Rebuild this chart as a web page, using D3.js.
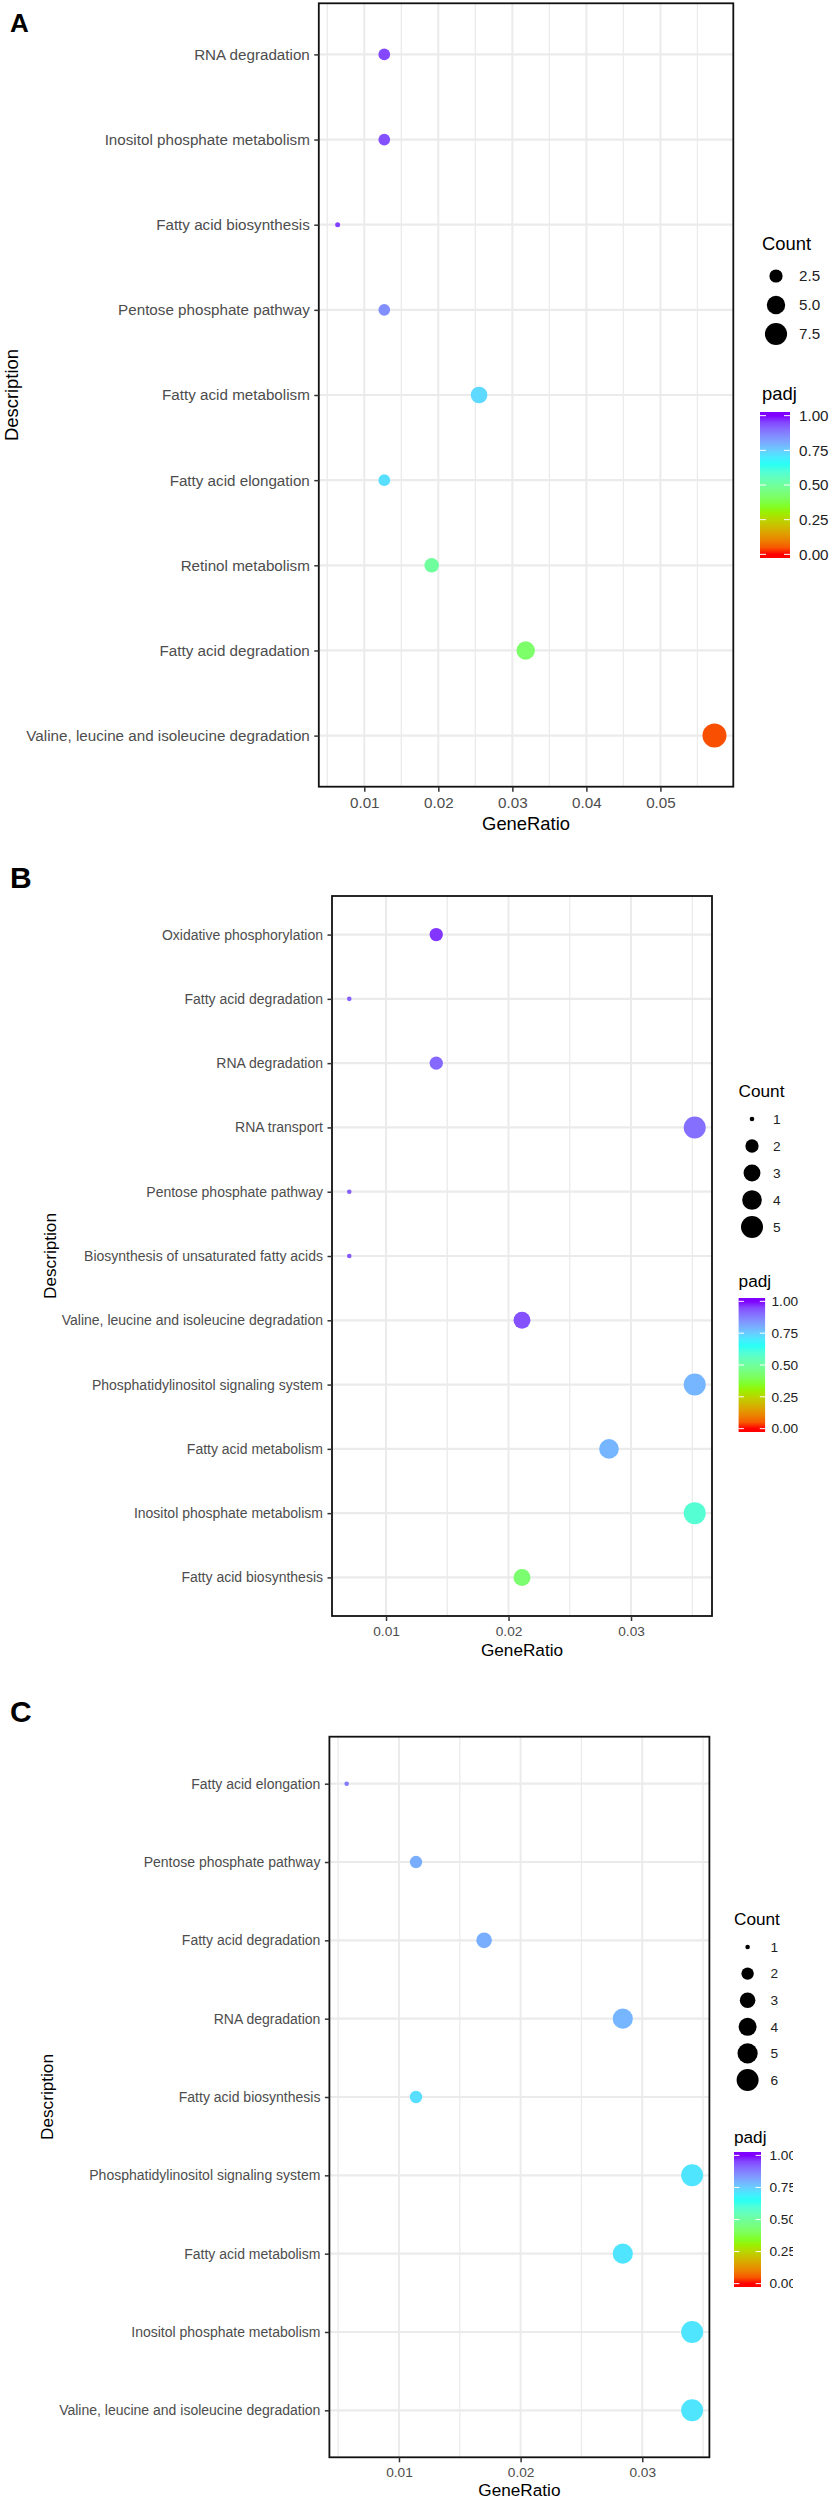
<!DOCTYPE html>
<html lang="en">
<head>
    <script src="https://d3js.org/d3.v7.min.js"></script>
    <style>
        body { margin: 0; background: #fff; }
        text { font-family: "Liberation Sans", Arial, sans-serif; }
    </style>
</head>
<body>
    <svg width="833" height="2500"></svg>
    <script>
        // ---- data ----
        const termsA = ["RNA degradation", "Inositol phosphate metabolism", "Fatty acid biosynthesis",
            "Pentose phosphate pathway", "Fatty acid metabolism", "Fatty acid elongation",
            "Retinol metabolism", "Fatty acid degradation", "Valine, leucine and isoleucine degradation"];
        const ratioA = [0.0127, 0.0127, 0.0064, 0.0127, 0.0255, 0.0127, 0.0191, 0.0318, 0.0573];
        const countA = [2, 2, 1, 2, 4, 2, 3, 5, 9];
        const padjA = [0.95, 0.94, 0.96, 0.85, 0.73, 0.72, 0.5, 0.42, 0.04];
        const ticksA = [0.01, 0.02, 0.03, 0.04, 0.05];
        const sizeBreaksA = [2.5, 5.0, 7.5];

        const termsB = ["Oxidative phosphorylation", "Fatty acid degradation", "RNA degradation",
            "RNA transport", "Pentose phosphate pathway", "Biosynthesis of unsaturated fatty acids",
            "Valine, leucine and isoleucine degradation", "Phosphatidylinositol signaling system",
            "Fatty acid metabolism", "Inositol phosphate metabolism", "Fatty acid biosynthesis"];
        const ratioB = [0.0141, 0.0070, 0.0141, 0.0352, 0.0070, 0.0070, 0.0211, 0.0352, 0.0282, 0.0352, 0.0211];
        const countB = [2, 1, 2, 5, 1, 1, 3, 5, 4, 5, 3];
        const padjB = [0.97, 0.92, 0.91, 0.9, 0.92, 0.93, 0.94, 0.79, 0.79, 0.59, 0.43];
        const ticksB = [0.01, 0.02, 0.03];
        const sizeBreaksB = [1, 2, 3, 4, 5];

        const termsC = ["Fatty acid elongation", "Pentose phosphate pathway", "Fatty acid degradation",
            "RNA degradation", "Fatty acid biosynthesis", "Phosphatidylinositol signaling system",
            "Fatty acid metabolism", "Inositol phosphate metabolism", "Valine, leucine and isoleucine degradation"];
        const ratioC = [0.0057, 0.0114, 0.0170, 0.0284, 0.0114, 0.0341, 0.0284, 0.0341, 0.0341];
        const countC = [1, 2, 3, 5, 2, 6, 5, 6, 6];
        const padjC = [0.88, 0.8, 0.8, 0.79, 0.72, 0.71, 0.71, 0.71, 0.71];
        const ticksC = [0.01, 0.02, 0.03];
        const sizeBreaksC = [1, 2, 3, 4, 5, 6];

        const padjBreaks = [0, 0.25, 0.5, 0.75, 1];

        // rainbow(4) gradient, Lab interpolated like ggplot
        const color = d3.scaleLinear()
            .domain([0, 1 / 3, 2 / 3, 1])
            .range(["#FF0000", "#80FF00", "#00FFFF", "#8000FF"])
            .interpolate(d3.interpolateLab);

        const svg = d3.select("svg");
        svg.append("rect").attr("width", 833).attr("height", 2500).attr("fill", "#fff");

        const defs = svg.append("defs");
        const grad = defs.append("linearGradient").attr("id", "padjGrad")
            .attr("x1", 0).attr("y1", 1).attr("x2", 0).attr("y2", 0);
        d3.range(0, 21).forEach(i => {
            const v = i / 20;
            grad.append("stop").attr("offset", 0.025 + v * 0.95).attr("stop-color", color(v));
        });

        function drawPanel(p) {
            const g = svg.append("g");
            if (p.clipX) {
                defs.append("clipPath").attr("id", "clip" + p.letter)
                    .append("rect").attr("x", 0).attr("y", p.plot.t - 200).attr("width", p.clipX).attr("height", 1000);
                g.attr("clip-path", `url(#clip${p.letter})`);
            }
            const pl = p.plot;

            const ext = d3.extent(p.ratio);
            const pad = (ext[1] - ext[0]) * 0.05;
            const x = d3.scaleLinear().domain([ext[0] - pad, ext[1] + pad]).range([pl.l, pl.r]);
            const y = d3.scalePoint().domain(p.terms).range([pl.t, pl.b]).padding(0.6);

            const cMin = d3.min(p.count), cMax = d3.max(p.count);
            const r = d3.scaleSqrt().domain([0, cMax - cMin]).range([p.dmin / 2, p.dmax / 2]);

            // grid
            const dom = x.domain();
            const minor = [];
            p.ticks.forEach(t => { minor.push(t - 0.005); minor.push(t + 0.005); });
            const minorV = Array.from(new Set(minor.map(v => +v.toFixed(4))))
                .filter(v => v > dom[0] && v < dom[1] && !p.ticks.includes(v));
            g.append("g").selectAll("line").data(minorV).join("line")
                .attr("x1", d => x(d)).attr("x2", d => x(d))
                .attr("y1", pl.t).attr("y2", pl.b)
                .attr("stroke", "#EBEBEB").attr("stroke-width", 1.3);
            g.append("g").selectAll("line").data(p.ticks).join("line")
                .attr("x1", d => x(d)).attr("x2", d => x(d))
                .attr("y1", pl.t).attr("y2", pl.b)
                .attr("stroke", "#EBEBEB").attr("stroke-width", 2);
            g.append("g").selectAll("line").data(p.terms).join("line")
                .attr("x1", pl.l).attr("x2", pl.r)
                .attr("y1", d => y(d)).attr("y2", d => y(d))
                .attr("stroke", "#EBEBEB").attr("stroke-width", 2.2);

            // points
            const pts = p.terms.map((t, i) => ({ term: t, ratio: p.ratio[i], count: p.count[i], padj: p.padj[i] }));
            g.append("g").selectAll("circle").data(pts).join("circle")
                .attr("cx", d => x(d.ratio)).attr("cy", d => y(d.term))
                .attr("r", d => r(d.count - cMin))
                .attr("fill", d => color(d.padj));

            // border
            g.append("rect").attr("x", pl.l).attr("y", pl.t)
                .attr("width", pl.r - pl.l).attr("height", pl.b - pl.t)
                .attr("fill", "none").attr("stroke", "#111").attr("stroke-width", 1.8);

            // axes
            const xAxis = g.append("g").attr("transform", `translate(0,${pl.b})`)
                .call(d3.axisBottom(x).tickValues(p.ticks).tickFormat(d3.format(".2f"))
                    .tickSizeInner(5).tickSizeOuter(0).tickPadding(p.xPad));
            const yAxis = g.append("g").attr("transform", `translate(${pl.l},0)`)
                .call(d3.axisLeft(y).tickSizeInner(4.5).tickSizeOuter(0).tickPadding(4.5));
            [xAxis, yAxis].forEach(a => {
                a.select(".domain").remove();
                a.selectAll(".tick line").attr("stroke", "#333").attr("stroke-width", 1.5);
                a.selectAll(".tick text").attr("fill", "#4D4D4D")
                    .style("font-family", '"Liberation Sans", Arial, sans-serif');
            });
            xAxis.selectAll(".tick text").attr("font-size", p.tickSize);
            yAxis.selectAll(".tick text").attr("font-size", p.labelSize);

            // titles
            g.append("text").attr("x", (pl.l + pl.r) / 2).attr("y", p.xTitleY)
                .attr("text-anchor", "middle").attr("font-size", p.titleSize).attr("fill", "#000")
                .text("GeneRatio");
            g.append("text")
                .attr("transform", `translate(${p.descX},${(pl.t + pl.b) / 2}) rotate(-90)`)
                .attr("text-anchor", "middle").attr("dy", "0.35em")
                .attr("font-size", p.titleSize).attr("fill", "#000")
                .text("Description");
            g.append("text").attr("x", 10).attr("y", p.letterY)
                .attr("font-size", p.letterSize).attr("font-weight", "bold").attr("fill", "#000")
                .text(p.letter);

            // size legend
            const L = p.legend;
            g.append("text").attr("x", L.titleX).attr("y", L.countY)
                .attr("font-size", p.titleSize).attr("fill", "#000").text("Count");
            const keys = g.append("g").selectAll("g").data(p.sizeBreaks).join("g")
                .attr("transform", (d, i) => `translate(0,${L.key0 + i * L.keyStep})`);
            keys.append("circle").attr("cx", L.keyX).attr("r", d => r(d - cMin)).attr("fill", "#000");
            keys.append("text").attr("x", L.labX).attr("dy", "0.35em")
                .attr("font-size", p.tickSize).attr("fill", "#222")
                .text(d => p.sizeBreaks.some(v => v % 1) ? d3.format(".1f")(d) : d);

            // colour bar
            g.append("text").attr("x", L.titleX).attr("y", L.padjY)
                .attr("font-size", p.titleSize).attr("fill", "#000").text("padj");
            const bh = L.barB - L.barT;
            const by = d3.scaleLinear().domain([0, 1]).range([L.barB - bh * 0.025, L.barT + bh * 0.025]);
            g.append("rect").attr("x", L.barX).attr("y", L.barT)
                .attr("width", L.barW).attr("height", bh).attr("fill", "url(#padjGrad)");
            const tk = g.append("g").selectAll("g").data(padjBreaks).join("g")
                .attr("transform", d => `translate(0,${by(d)})`);
            tk.append("line").attr("x1", L.barX).attr("x2", L.barX + L.barW / 5)
                .attr("stroke", "#fff").attr("stroke-width", 1);
            tk.append("line").attr("x1", L.barX + L.barW * 4 / 5).attr("x2", L.barX + L.barW)
                .attr("stroke", "#fff").attr("stroke-width", 1);
            tk.append("text").attr("x", L.barLabX).attr("dy", "0.35em")
                .attr("font-size", p.tickSize).attr("fill", "#222")
                .text(d => d3.format(".2f")(d));
        }

        drawPanel({
            letter: "A", letterY: 32, letterSize: 26,
            terms: termsA, ratio: ratioA, count: countA, padj: padjA, ticks: ticksA, sizeBreaks: sizeBreaksA,
            plot: { l: 318.8, r: 733.3, t: 3.3, b: 786.7 },
            dmin: 5, dmax: 24,
            labelSize: 15.2, tickSize: 15.2, titleSize: 18.4, xPad: 5.5,
            xTitleY: 830, descX: 12,
            legend: {
                titleX: 762, countY: 250, keyX: 776, labX: 799, key0: 276, keyStep: 29,
                padjY: 400, barX: 760, barW: 30, barT: 412, barB: 558, barLabX: 799
            }
        });

        drawPanel({
            letter: "B", letterY: 888, letterSize: 30,
            terms: termsB, ratio: ratioB, count: countB, padj: padjB, ticks: ticksB, sizeBreaks: sizeBreaksB,
            plot: { l: 332, r: 712, t: 896, b: 1616 },
            dmin: 4.6, dmax: 22,
            labelSize: 14, tickSize: 13.7, titleSize: 17.2, xPad: 5.3,
            xTitleY: 1656, descX: 50,
            legend: {
                titleX: 738.6, countY: 1097, keyX: 752, labX: 773, key0: 1119, keyStep: 27,
                padjY: 1287, barX: 738.6, barW: 26.5, barT: 1298, barB: 1432, barLabX: 771.5
            }
        });

        drawPanel({
            letter: "C", letterY: 1722, letterSize: 30, clipX: 793,
            terms: termsC, ratio: ratioC, count: countC, padj: padjC, ticks: ticksC, sizeBreaks: sizeBreaksC,
            plot: { l: 329.4, r: 709.4, t: 1736.7, b: 2457.3 },
            dmin: 4.6, dmax: 22,
            labelSize: 14, tickSize: 13.7, titleSize: 17.2, xPad: 5,
            xTitleY: 2496, descX: 47,
            legend: {
                titleX: 734, countY: 1925, keyX: 747.6, labX: 770.5, key0: 1947, keyStep: 26.6,
                padjY: 2143, barX: 734, barW: 27, barT: 2152, barB: 2287, barLabX: 769.4
            }
        });
    </script>
</body>
</html>
